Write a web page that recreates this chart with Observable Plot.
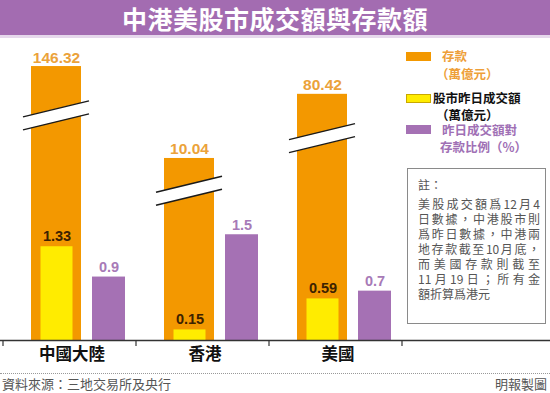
<!DOCTYPE html>
<html>
<head>
<meta charset="utf-8">
<script src="https://cdn.jsdelivr.net/npm/d3@7"></script>
<script src="https://cdn.jsdelivr.net/npm/@observablehq/plot@0.6"></script>
<style>
  body { margin:0; width:550px; height:393px; position:relative; overflow:hidden; background:#fff;
         font-family:"Noto Sans CJK TC","Noto Sans",sans-serif; }
  .abs { position:absolute; white-space:nowrap; }
  #title { left:0; top:0; width:550px; height:35px; background:#a36cb1; border-bottom:3px solid #e6d8ec;
           color:#fff; font-weight:bold; font-size:25px; text-align:center; line-height:37px; letter-spacing:0.5px; }
  #chart { left:0; top:38px; }
  .sw { position:absolute; width:25px; height:9px; }
  .lg { position:absolute; font-size:12.5px; line-height:13px; font-weight:bold; white-space:nowrap; }
  #note { left:407px; top:168px; width:139px; height:156px; border:1px solid #8a8a8a; box-sizing:border-box; }
  .nl { position:absolute; left:10px; width:122px; font-size:12px; line-height:13px; color:#555; white-space:nowrap; }
  .just { text-align:justify; text-align-last:justify; }
  #foot { left:0; top:373px; width:550px; height:0; border-top:1px dotted #999; }
  .ft { position:absolute; top:377px; font-size:13px; line-height:14px; color:#555; white-space:nowrap; }
</style>
</head>
<body>
<div id="title" class="abs">中港美股市成交額與存款額</div>
<div id="chart" class="abs"></div>
<div id="legend"></div>
<div id="note" class="abs"></div>
<div id="foot" class="abs"></div>
<div class="ft" style="left:2px">資料來源：三地交易所及央行</div>
<div class="ft" style="right:3px">明報製圖</div>
<script>
// ---- data ----
const categories = ["中國大陸", "香港", "美國"];
const deposits = [146.32, 10.04, 80.42];      // 存款（萬億元）
const turnover = [1.33, 0.15, 0.59];          // 股市昨日成交額（萬億元）
const ratio = [0.9, 1.5, 0.7];                // 昨日成交額對存款比例（%）
const seriesNames = ["存款", "股市昨日成交額", "昨日成交額對存款比例（%）"];
const noteLines = ["註：", "美股成交額爲12月4", "日數據，中港股市則", "爲昨日數據，中港兩",
  "地存款截至10月底，", "而美國存款則截至", "11月19日；所有金", "額折算爲港元"];

const ORANGE = "#f39800", YELLOW = "#ffec00", PURPLE = "#a571b4";

const depRows = categories.map((c, i) => ({cat: c, v: deposits[i]}));
const turRows = categories.map((c, i) => ({cat: c, v: turnover[i]}));
const ratRows = categories.map((c, i) => ({cat: c, v: ratio[i]}));

const chart = Plot.plot({
  width: 550,
  height: 328,
  marginLeft: 0, marginRight: 0, marginTop: 0, marginBottom: 26,
  style: {fontFamily: "'Liberation Sans', 'Noto Sans CJK TC', sans-serif", background: "transparent", overflow: "visible"},
  x: {type: "band", domain: categories, range: [3, 402], padding: 0},
  // broken axis: piecewise linear scale (to scale below 2, compressed above)
  y: {type: "linear", domain: [0, 2, 10, 80, 150], range: [302, 161, 120, 56, 26.5], axis: null},
  marks: [
    Plot.barY(depRows, {x: "cat", y: "v", fill: ORANGE, insetLeft: 28, insetRight: 55}),
    Plot.barY(turRows, {x: "cat", y: "v", fill: YELLOW, insetLeft: 37.5, insetRight: 63.5}),
    Plot.barY(ratRows, {x: "cat", y: "v", fill: PURPLE, insetLeft: 89, insetRight: 11}),
    Plot.text(depRows, {x: "cat", y: "v", text: d => String(d.v), dx: -13.5, dy: -4, lineAnchor: "bottom",
      fill: "#eba23a", fontSize: 15.5, fontWeight: "bold"}),
    Plot.text(turRows, {x: "cat", y: "v", text: d => String(d.v), dx: -13, dy: -6, lineAnchor: "bottom",
      fill: "#3c2200", fontSize: 14.5, fontWeight: "bold"}),
    Plot.text(ratRows, {x: "cat", y: "v", text: d => String(d.v), dx: 39, dy: -5, lineAnchor: "bottom",
      fill: "#a77ab7", fontSize: 14.5, fontWeight: "bold"}),
    Plot.ruleY([0], {stroke: "#333", strokeWidth: 1.5}),
    Plot.axisX({tickSize: 0, tickPadding: 8, fontSize: 16.5, fontWeight: "bold", label: null,
      fontFamily: "'Noto Sans CJK TC', sans-serif", fill: "#111", dx: 2})
  ]
});
document.getElementById("chart").appendChild(chart);

// ticks between categories and axis breaks, drawn through the plot's own scales
const sx = chart.scale("x"), sy = chart.scale("y");
const svg = d3.select(chart.tagName.toLowerCase() === "svg" ? chart : chart.querySelector("svg"));
const bw = sx.bandwidth;
const y0 = sy.apply(0);
const tickXs = categories.map(c => sx.apply(c)).concat([sx.apply(categories[categories.length - 1]) + bw]);
svg.append("g").selectAll("line").data(tickXs).join("line")
  .attr("x1", d => d).attr("x2", d => d).attr("y1", y0).attr("y2", y0 + 6)
  .attr("stroke", "#333").attr("stroke-width", 1.2);

const gb = svg.append("g");
depRows.forEach(d => {
  const x0 = sx.apply(d.cat) + 28, x1 = x0 + 50;
  const yt = sy.apply(d.v);
  const yc = y0 - 0.82 * (y0 - yt);
  const xa = x0 - 8, xb = x1 + 8;
  const ua = yc + 8 - 6.5, ub = yc - 8 - 6.5;
  const la = yc + 8 + 6.5, lb = yc - 8 + 6.5;
  gb.append("polygon").attr("points", `${xa},${ua} ${xb},${ub} ${xb},${lb} ${xa},${la}`).attr("fill", "#fff");
  gb.append("line").attr("x1", xa).attr("y1", ua).attr("x2", xb).attr("y2", ub).attr("stroke", "#1a1a1a").attr("stroke-width", 1.5);
  gb.append("line").attr("x1", xa).attr("y1", la).attr("x2", xb).attr("y2", lb).attr("stroke", "#1a1a1a").attr("stroke-width", 1.5);
});

// legend
const legend = document.getElementById("legend");
const legendSpec = [
  {color: ORANGE, sw: 52, lines: [[seriesNames[0], 442, 49], ["（萬億元）", 436, 67]], text: "#ee9f3a", border: "none"},
  {color: YELLOW, sw: 94, lines: [[seriesNames[1], 433, 91], ["（萬億元）", 436, 108]], text: "#111", border: "1px solid #c9a800"},
  {color: PURPLE, sw: 125, lines: [["昨日成交額對", 442, 123], ["存款比例（%）", 440, 140]], text: "#a070b5", border: "none"}
];
legendSpec.forEach(s => {
  const sw = document.createElement("div");
  sw.className = "sw";
  sw.style.left = "406px"; sw.style.top = s.sw + "px"; sw.style.background = s.color;
  sw.style.border = s.border; sw.style.boxSizing = "border-box";
  legend.appendChild(sw);
  s.lines.forEach(([t, x, y]) => {
    const el = document.createElement("div");
    el.className = "lg";
    el.style.left = x + "px"; el.style.top = y + "px"; el.style.color = s.text;
    el.textContent = t;
    legend.appendChild(el);
  });
});

// note box
const note = document.getElementById("note");
const noteTops = [9, 28, 43, 58, 73, 88, 103, 118];
noteLines.forEach((t, i) => {
  const el = document.createElement("div");
  el.className = "nl" + (i > 0 && i < noteLines.length - 1 ? " just" : "");
  el.style.top = noteTops[i] + "px";
  el.textContent = t;
  note.appendChild(el);
});
</script>
</body>
</html>
